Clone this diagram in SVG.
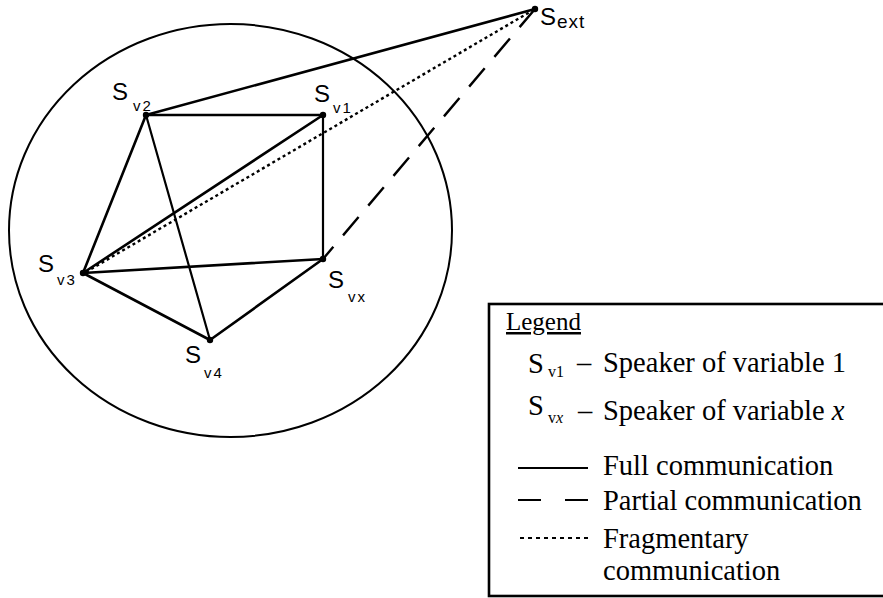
<svg xmlns="http://www.w3.org/2000/svg" width="883" height="598" viewBox="0 0 883 598">
<style>
.full{stroke:#000;stroke-width:2.6;fill:none;stroke-linecap:round}
.thin{stroke:#000;stroke-width:2.2;fill:none;stroke-linecap:round}
.dot{stroke:#000;stroke-width:2.4;fill:none;stroke-dasharray:3 3}
.dash{stroke:#000;stroke-width:2.4;fill:none;stroke-dasharray:24 15}
.node{fill:#000}
.lbl{font-family:"Liberation Sans",Arial,sans-serif;font-size:24px;fill:#000}
.sub{font-family:"Liberation Sans",Arial,sans-serif;font-size:15px;letter-spacing:2px;fill:#000}
.lg{font-family:"Liberation Serif","Times New Roman",serif;font-size:28.5px;fill:#000}
.lgs{font-family:"Liberation Serif","Times New Roman",serif;font-size:16px;fill:#000}
</style>
<rect width="883" height="598" fill="#fff"/>
<ellipse cx="230.5" cy="230.5" rx="221.5" ry="206.5" fill="none" stroke="#000" stroke-width="2"/>
<g id="connectors">
<line class="full" x1="146" y1="115" x2="535" y2="9"/>
<line class="full" x1="146" y1="115" x2="323" y2="115"/>
<line class="full" x1="146" y1="115" x2="83" y2="273"/>
<line class="thin" x1="146" y1="115" x2="210" y2="340"/>
<line class="full" x1="323" y1="115" x2="83" y2="273"/>
<line class="thin" x1="323" y1="115" x2="323" y2="259"/>
<line class="full" x1="83" y1="273" x2="323" y2="259"/>
<line class="full" x1="83" y1="273" x2="210" y2="340"/>
<line class="full" x1="210" y1="340" x2="323" y2="259"/>
<line class="dot" x1="86" y1="272" x2="535" y2="9"/>
<line class="dash" x1="323" y1="259" x2="535" y2="9" stroke-dashoffset="8"/>
</g>
<g id="Sext"><circle class="node" cx="535" cy="9" r="3.2"/><text class="lbl" x="540" y="25">S</text><text class="sub" x="557" y="28" style="font-size:19px;letter-spacing:1px">ext</text></g>
<g id="Sv2"><circle class="node" cx="146" cy="115" r="3.2"/><text class="lbl" x="112" y="100">S</text><text class="sub" x="133" y="111">v2</text></g>
<g id="Sv1"><circle class="node" cx="323" cy="115" r="3.2"/><text class="lbl" x="314" y="102">S</text><text class="sub" x="333" y="113">v1</text></g>
<g id="Sv3"><circle class="node" cx="83" cy="273" r="3.2"/><text class="lbl" x="38" y="272">S</text><text class="sub" x="57" y="285">v3</text></g>
<g id="Svx"><circle class="node" cx="323" cy="259" r="3.2"/><text class="lbl" x="328" y="288">S</text><text class="sub" x="348" y="302">vx</text></g>
<g id="Sv4"><circle class="node" cx="210" cy="340" r="3.2"/><text class="lbl" x="185" y="363">S</text><text class="sub" x="204" y="378">v4</text></g>
<g id="legend">
<rect x="489" y="304" width="400" height="292" fill="none" stroke="#000" stroke-width="2.6"/>
<text class="lg" x="506" y="330" style="font-size:25px;text-decoration:underline">Legend</text>
<text class="lg" x="528" y="373">S</text><text class="lgs" x="548" y="377">v1</text>
<text class="lg" x="577" y="372">–</text><text class="lg" x="603" y="372">Speaker of variable 1</text>
<text class="lg" x="528" y="415">S</text><text class="lgs" x="548" y="423">v<tspan font-style="italic">x</tspan></text>
<text class="lg" x="578" y="420">–</text><text class="lg" x="603" y="420">Speaker of variable <tspan font-style="italic">x</tspan></text>
<line x1="518" y1="468" x2="588" y2="468" stroke="#000" stroke-width="2"/>
<text class="lg" x="603" y="475">Full communication</text>
<line x1="518" y1="500" x2="541" y2="500" stroke="#000" stroke-width="2"/>
<line x1="565" y1="500" x2="588" y2="500" stroke="#000" stroke-width="2"/>
<text class="lg" x="603" y="510">Partial communication</text>
<line x1="520" y1="538" x2="590" y2="538" stroke="#000" stroke-width="2" stroke-dasharray="4 4"/>
<text class="lg" x="603" y="548">Fragmentary</text>
<text class="lg" x="603" y="580">communication</text>
</g>
</svg>
